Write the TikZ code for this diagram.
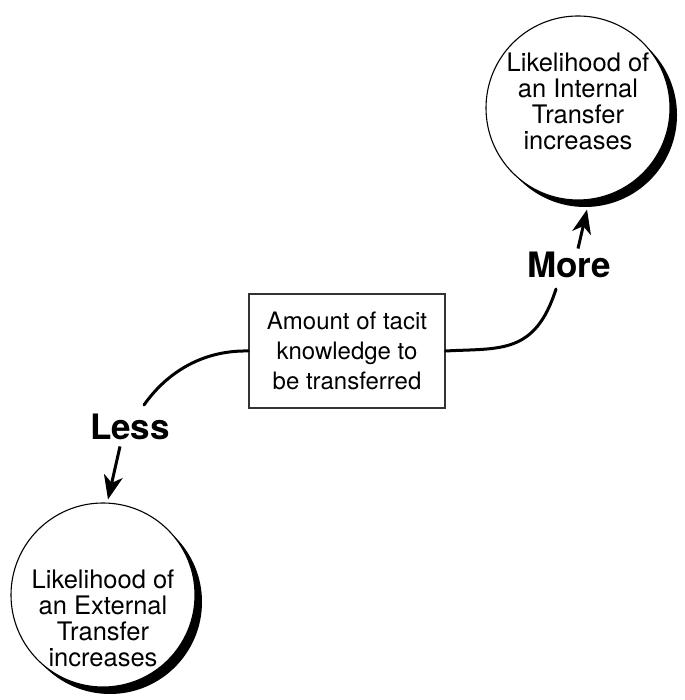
\documentclass[tikz,border=0pt]{standalone}
\usepackage{fontspec}
\setmainfont{TeX Gyre Heros}
\usetikzlibrary{arrows.meta,calc}
\begin{document}
\begin{tikzpicture}[x=1pt,y=1pt,
  bubble/.style={circle,draw=black,line width=1.1pt,fill=white,minimum size=184pt,inner sep=0pt},
  bubbletext/.style={align=center,font=\fontsize{25.5}{26}\selectfont},
  textbox/.style={draw=black!80,line width=1.1pt,minimum width=196pt,minimum height=114pt,align=center,font=\fontsize{24}{30}\selectfont},
  level/.style={font=\fontsize{35}{36}\bfseries\selectfont},
  link/.style={line width=3pt,line cap=round},
  pointer/.style={line width=3pt,-{Stealth[length=24pt,width=19pt,inset=7pt]}}]
\useasboundingbox (0,0) rectangle (684,700);

% central factor
\node[textbox] (box) at (347,349) {Amount of tacit\\knowledge to\\be transferred};

% outcome bubbles with a dark crescent shadow
\fill[black] (585,585) circle (92);
\node[bubble] (topc) at (578,592) {};
\node[bubbletext] (toptext) at (578,599) {Likelihood of\\an Internal\\Transfer\\increases};

\fill[black] (110,98) circle (92);
\node[bubble] (botc) at (103,105) {};
\node[bubbletext] (bottext) at (103,82) {Likelihood of\\an External\\Transfer\\increases};

% direction labels
\node[level] (more) at (569,435) {More};
\node[level] (less) at (130,273) {Less};

\coordinate (moreend) at (556,411);
\coordinate (lessend) at (144,295);

% curved links from the box to the labels
\draw[link] (box.east) .. controls (500,352) and (535,345) .. (moreend);
\draw[link] (box.west) .. controls (200,350) and (165,325) .. (lessend);

% arrows from the labels to the bubbles
\draw[pointer] ($(more.north)+(9,0)$) -- ($(topc.south)+(9,-9)$);
\draw[pointer] ($(less.south)+(-10,-3)$) -- ($(botc.north)+(5,3)$);
\end{tikzpicture}
\end{document}
